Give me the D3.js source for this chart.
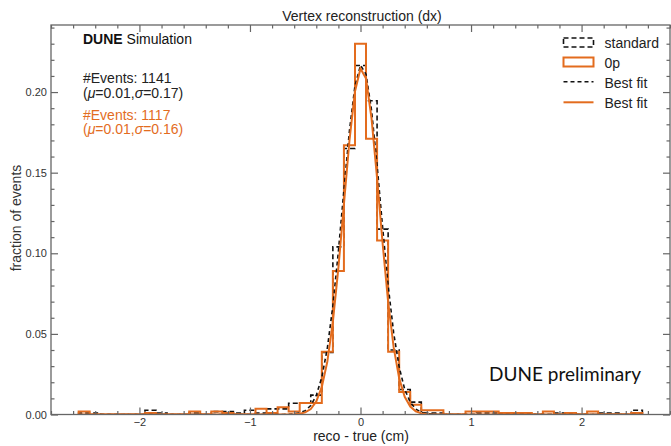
<!DOCTYPE html>
<html>
<head>
<meta charset="utf-8">
<script src="https://cdn.jsdelivr.net/npm/d3@7"></script>
<style>
  body { margin: 0; background: #fff; }
  svg { font-family: "Liberation Sans", Arial, sans-serif; }
</style>
</head>
<body>
<svg width="671" height="446"></svg>
<script>
// bin centres (width 0.1) and fraction of events per bin
var binWidth = 0.1;
var binCenters = [-2.5, -2.4, -2.3, -2.2, -2.1, -2.0, -1.9, -1.8, -1.7, -1.6,
                  -1.5, -1.4, -1.3, -1.2, -1.1, -1.0, -0.9, -0.8, -0.7, -0.6,
                  -0.5, -0.4, -0.3, -0.2, -0.1, 0.0, 0.1, 0.2, 0.3, 0.4,
                  0.5, 0.6, 0.7, 0.8, 0.9, 1.0, 1.1, 1.2, 1.3, 1.4,
                  1.5, 1.6, 1.7, 1.8, 1.9, 2.0, 2.1, 2.2, 2.3, 2.4, 2.5];

var standardFrac = [0.0009, 0.0009, 0, 0, 0, 0, 0.0026, 0.0009, 0, 0,
                    0.0009, 0, 0.0018, 0.0018, 0.0009, 0.0026, 0.0009, 0.0035, 0.0035, 0.0070,
                    0.0070, 0.0120, 0.0385, 0.1040, 0.1650, 0.2165, 0.1946, 0.1150, 0.0400, 0.0155,
                    0.0077, 0.0009, 0.0009, 0, 0, 0, 0.0009, 0.0009, 0.0009, 0.0009,
                    0.0009, 0, 0, 0.0009, 0.0009, 0, 0, 0.0009, 0.0009, 0, 0.0026];

var zeroPFrac = [0.0018, 0, 0, 0, 0, 0, 0.0009, 0, 0, 0,
                 0.0018, 0, 0.0018, 0.0009, 0, 0, 0.0036, 0.0009, 0.0045, 0.0018,
                 0.0072, 0.0072, 0.0390, 0.0890, 0.1670, 0.2300, 0.1710, 0.1080, 0.0390, 0.0140,
                 0.0060, 0.0027, 0.0027, 0, 0, 0.0018, 0.0018, 0.0018, 0.0009, 0.0009,
                 0.0009, 0, 0.0018, 0, 0.0009, 0, 0.0018, 0, 0, 0, 0.0009];

// best fit curves
var fitX        = [-2.55, -0.7, -0.6, -0.55, -0.5, -0.45, -0.4, -0.35, -0.3, -0.25, -0.2, -0.15, -0.1, -0.05, 0,
                   0.05, 0.1, 0.15, 0.2, 0.25, 0.3, 0.35, 0.4, 0.45, 0.5, 0.55, 0.6, 0.7, 2.55];
var fitStandard = [0, 0, 0.0004, 0.0010, 0.0024, 0.0056, 0.0118, 0.0231, 0.0411, 0.0674, 0.1012, 0.1393, 0.1760, 0.2039, 0.2166,
                   0.2111, 0.1886, 0.1546, 0.1162, 0.0801, 0.0506, 0.0294, 0.0156, 0.0076, 0.0034, 0.0014, 0.0005, 0, 0];
var fitZeroP    = [0, 0, 0.0002, 0.0005, 0.0013, 0.0034, 0.0081, 0.0171, 0.0329, 0.0574, 0.0909, 0.1304, 0.1698, 0.2004, 0.2146,
                   0.2084, 0.1835, 0.1466, 0.1062, 0.0698, 0.0416, 0.0225, 0.0110, 0.0049, 0.0020, 0.0007, 0.0002, 0, 0];

var xMajor = [-2, -1, 0, 1, 2];
var yMajor = [0, 0.05, 0.10, 0.15, 0.20];

var orange = "#e36c1e";

var svg = d3.select("svg");
var plotL = 51, plotR = 670, plotT = 25, plotB = 414.5;

var x = d3.scaleLinear().domain([-2.8, 2.8]).range([plotL, plotR]);
var y = d3.scaleLinear().domain([0, 0.2416]).range([plotB, plotT]);

var xMinor = d3.range(-2.8, 2.81, 0.2).map(function(v) { return +v.toFixed(1); })
  .filter(function(v) { return xMajor.indexOf(v) == -1; });
var yMinor = d3.range(0, 0.241, 0.01).map(function(v) { return +v.toFixed(2); })
  .filter(function(v) { return yMajor.indexOf(v) == -1; });

svg.append("clipPath").attr("id", "plot")
  .append("rect").attr("x", plotL).attr("y", plotT)
  .attr("width", plotR - plotL).attr("height", plotB - plotT);

// step outline of a histogram
function stepPoints(vals) {
  var pts = [[x(binCenters[0] - binWidth / 2), y(0)]];
  vals.forEach(function(v, i) {
    pts.push([x(binCenters[i] - binWidth / 2), y(v)]);
    pts.push([x(binCenters[i] + binWidth / 2), y(v)]);
  });
  pts.push([x(binCenters[binCenters.length - 1] + binWidth / 2), y(0)]);
  return pts;
}

var line = d3.line();
var fitLine = d3.line()
  .x(function(d) { return x(d[0]); })
  .y(function(d) { return y(d[1]); });

var plot = svg.append("g").attr("clip-path", "url(#plot)");

plot.append("path")
  .attr("d", line(stepPoints(standardFrac)))
  .attr("fill", "none").attr("stroke", "#111")
  .attr("stroke-width", 1.6).attr("stroke-dasharray", "5,3");

plot.append("path")
  .attr("d", line(stepPoints(zeroPFrac)))
  .attr("fill", "none").attr("stroke", orange)
  .attr("stroke-width", 2);

plot.append("path")
  .attr("d", fitLine(d3.zip(fitX, fitStandard)))
  .attr("fill", "none").attr("stroke", "#111")
  .attr("stroke-width", 1.6).attr("stroke-dasharray", "4,3");

plot.append("path")
  .attr("d", fitLine(d3.zip(fitX, fitZeroP)))
  .attr("fill", "none").attr("stroke", orange)
  .attr("stroke-width", 2);

// axes, ticks on all four sides pointing inward
var axisColor = "#666";

function styleAxis(g) {
  g.select(".domain").remove();
  g.selectAll(".tick line").attr("stroke", axisColor).attr("stroke-width", 1.2);
  g.selectAll(".tick text").attr("fill", "#333").style("font-size", "11px");
}

svg.append("g").attr("transform", "translate(0," + plotB + ")")
  .call(d3.axisBottom(x).tickValues(xMajor).tickSize(-7).tickPadding(4).tickFormat(d3.format("d")))
  .call(styleAxis);
svg.append("g").attr("transform", "translate(0," + plotB + ")")
  .call(d3.axisBottom(x).tickValues(xMinor).tickSize(-3.5).tickFormat(""))
  .call(styleAxis);
svg.append("g").attr("transform", "translate(0," + plotT + ")")
  .call(d3.axisTop(x).tickValues(xMajor).tickSize(-7).tickFormat(""))
  .call(styleAxis);
svg.append("g").attr("transform", "translate(0," + plotT + ")")
  .call(d3.axisTop(x).tickValues(xMinor).tickSize(-3.5).tickFormat(""))
  .call(styleAxis);

svg.append("g").attr("transform", "translate(" + plotL + ",0)")
  .call(d3.axisLeft(y).tickValues(yMajor).tickSize(-7).tickPadding(4).tickFormat(d3.format(".2f")))
  .call(styleAxis);
svg.append("g").attr("transform", "translate(" + plotL + ",0)")
  .call(d3.axisLeft(y).tickValues(yMinor).tickSize(-3.5).tickFormat(""))
  .call(styleAxis);
svg.append("g").attr("transform", "translate(" + plotR + ",0)")
  .call(d3.axisRight(y).tickValues(yMajor).tickSize(-7).tickFormat(""))
  .call(styleAxis);
svg.append("g").attr("transform", "translate(" + plotR + ",0)")
  .call(d3.axisRight(y).tickValues(yMinor).tickSize(-3.5).tickFormat(""))
  .call(styleAxis);

svg.append("rect")
  .attr("x", plotL).attr("y", plotT)
  .attr("width", plotR - plotL).attr("height", plotB - plotT)
  .attr("fill", "none").attr("stroke", axisColor).attr("stroke-width", 1.3);

// titles
svg.append("text").attr("x", 362).attr("y", 20.5)
  .attr("text-anchor", "middle").attr("fill", "#222")
  .style("font-size", "14px").text("Vertex reconstruction (dx)");

svg.append("text").attr("x", 361).attr("y", 441)
  .attr("text-anchor", "middle").attr("fill", "#222")
  .style("font-size", "14px").text("reco - true (cm)");

svg.append("text")
  .attr("transform", "translate(21,218) rotate(-90)")
  .attr("text-anchor", "middle").attr("fill", "#333")
  .style("font-size", "14px").text("fraction of events");

// top-left labels
var lab = svg.append("text").attr("x", 83).attr("y", 43.5).style("font-size", "14px").attr("fill", "#111");
lab.append("tspan").attr("font-weight", "bold").text("DUNE");
lab.append("tspan").text(" Simulation");

function statLines(y0, col, n, sig) {
  svg.append("text").attr("x", 83).attr("y", y0)
    .style("font-size", "14px").attr("fill", col).text("#Events: " + n);
  var t = svg.append("text").attr("x", 83).attr("y", y0 + 14.5)
    .style("font-size", "14px").attr("fill", col);
  t.append("tspan").text("(");
  t.append("tspan").attr("font-style", "italic").text("\u03bc");
  t.append("tspan").text("=0.01,");
  t.append("tspan").attr("font-style", "italic").text("\u03c3");
  t.append("tspan").text("=" + sig + ")");
}
statLines(83, "#222", 1141, "0.17");
statLines(119.5, orange, 1117, "0.16");

// legend
var legX = 563.5, legW = 30;
svg.append("rect").attr("x", legX).attr("y", 38).attr("width", legW).attr("height", 9)
  .attr("fill", "none").attr("stroke", "#111").attr("stroke-width", 1.6).attr("stroke-dasharray", "5,3");
svg.append("rect").attr("x", legX).attr("y", 57.5).attr("width", legW).attr("height", 9)
  .attr("fill", "none").attr("stroke", orange).attr("stroke-width", 2);
svg.append("line").attr("x1", legX).attr("x2", legX + legW).attr("y1", 81.7).attr("y2", 81.7)
  .attr("stroke", "#111").attr("stroke-width", 1.6).attr("stroke-dasharray", "4,3");
svg.append("line").attr("x1", legX).attr("x2", legX + legW).attr("y1", 102.3).attr("y2", 102.3)
  .attr("stroke", orange).attr("stroke-width", 2);

var legLabels = ["standard", "0p", "Best fit", "Best fit"];
svg.selectAll(".leg").data(legLabels).enter().append("text")
  .attr("x", 604.5)
  .attr("y", function(d, i) { return 47.5 + i * 20; })
  .attr("fill", "#222").style("font-size", "14px")
  .text(function(d) { return d; });

svg.append("text").attr("x", 489).attr("y", 381)
  .attr("fill", "#111").style("font-family", "Lato, 'Open Sans', sans-serif").style("font-size", "19px")
  .text("DUNE preliminary");
</script>
</body>
</html>
